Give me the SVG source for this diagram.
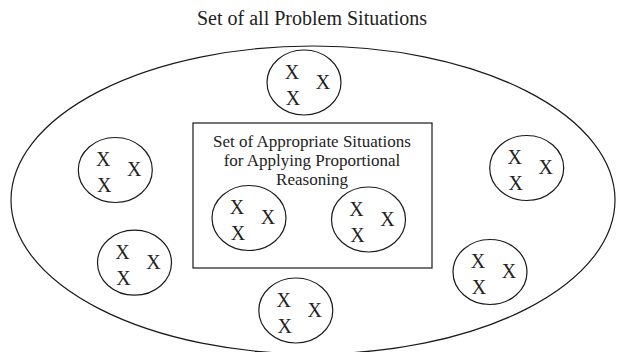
<svg xmlns="http://www.w3.org/2000/svg" width="617" height="352" viewBox="0 0 617 352">
<style>
  .shape { fill: none; stroke: #1a1a1a; stroke-width: 1.2; }
  text { font-family: 'Liberation Serif', 'DejaVu Serif', serif; fill: #222; }
  .title { font-size: 20px; text-anchor: middle; }
  .label { font-size: 17px; text-anchor: middle; }
  .x { font-size: 20px; text-anchor: middle; }
</style>
<defs>
  <g id="bag">
    <ellipse class="shape" cx="0" cy="0" rx="37" ry="32.5"/>
    <text class="x" x="-12" y="-4" font-family="Liberation Serif, serif">X</text>
    <text class="x" x="19" y="6" font-family="Liberation Serif, serif">X</text>
    <text class="x" x="-11" y="22" font-family="Liberation Serif, serif">X</text>
  </g>
</defs>
<rect width="617" height="352" fill="#fff"/>
<g id="all-situations" font-family="Liberation Serif, serif">
  <text class="title" x="312" y="25">Set of all Problem Situations</text>
  <ellipse class="shape" cx="313" cy="200" rx="302" ry="154"/>
</g>
<g id="appropriate-situations" font-family="Liberation Serif, serif">
  <rect class="shape" x="193" y="123" width="239" height="145"/>
  <text class="label" x="312" y="147">Set of Appropriate Situations</text>
  <text class="label" x="312" y="166">for Applying Proportional</text>
  <text class="label" x="312" y="185">Reasoning</text>
</g>
<g id="bag-top"><use href="#bag" x="304" y="82.5"/></g>
<g id="bag-left-upper"><use href="#bag" x="115.3" y="170"/></g>
<g id="bag-left-lower"><use href="#bag" x="134.5" y="262.7"/></g>
<g id="bag-right-upper"><use href="#bag" x="526.7" y="168"/></g>
<g id="bag-right-lower"><use href="#bag" x="490" y="272"/></g>
<g id="bag-bottom"><use href="#bag" x="295.8" y="310.5"/></g>
<g id="bag-inner-left"><use href="#bag" x="249" y="218"/></g>
<g id="bag-inner-right"><use href="#bag" x="368.5" y="219.5"/></g>
<g id="connectors"></g>
</svg>
